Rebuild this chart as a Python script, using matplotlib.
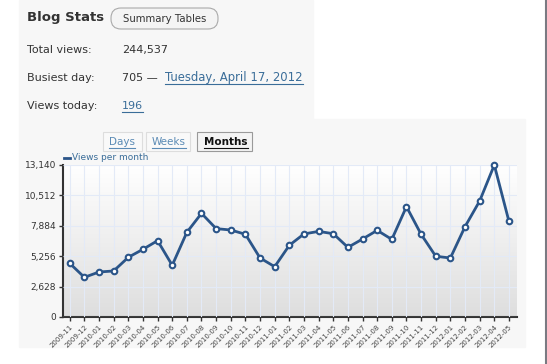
import matplotlib.pyplot as plt
from matplotlib.patches import Rectangle, FancyBboxPatch
from matplotlib.colors import LinearSegmentedColormap
import numpy as np

months = ['2009-11', '2009-12', '2010-01', '2010-02', '2010-03', '2010-04', '2010-05',
          '2010-06', '2010-07', '2010-08', '2010-09', '2010-10', '2010-11', '2010-12',
          '2011-01', '2011-02', '2011-03', '2011-04', '2011-05', '2011-06', '2011-07',
          '2011-08', '2011-09', '2011-10', '2011-11', '2011-12', '2012-01', '2012-02',
          '2012-03', '2012-04', '2012-05']
views = [4640, 3430, 3890, 3980, 5160, 5850, 6600, 4470, 7320, 8960, 7640, 7520,
         7150, 5100, 4350, 6200, 7180, 7400, 7200, 6020, 6740, 7490, 6710, 9540,
         7150, 5250, 5100, 7810, 10030, 13140, 8270]
yticks = [0, 2628, 5256, 7884, 10512, 13140]

W, H = 547, 364
fig = plt.figure(figsize=(W / 100, H / 100), dpi=100)
fig.patch.set_facecolor('white')

# full-figure pixel canvas for the page decorations
bg = fig.add_axes([0, 0, 1, 1])
bg.set_xlim(0, W)
bg.set_ylim(H, 0)
bg.axis('off')

panel = '#f7f7f7'
bg.add_patch(Rectangle((19, 0), 294, 119, color=panel, zorder=0))
bg.add_patch(Rectangle((19, 119), 506, 228, color=panel, zorder=0))
bg.plot([546, 546], [0, H], color='#7a7a82', lw=1.5)

font = 'DejaVu Sans'
link = '#3a6d99'
txt = '#333333'
bg.text(27, 18, 'Blog Stats', fontsize=9.5, fontweight='bold', color='#333333',
        va='center', family=font)
bg.add_patch(FancyBboxPatch((111, 8), 107, 21, boxstyle='round,pad=0,rounding_size=10',
                            fc='#f4f4f4', ec='#aaaaaa', lw=0.8))
bg.text(164.5, 18.5, 'Summary Tables', fontsize=7.3, color='#333333',
        ha='center', va='center', family=font)

rows = [('Total views:', 50), ('Busiest day:', 78), ('Views today:', 106)]
for label, y in rows:
    bg.text(27, y, label, fontsize=8, color=txt, va='center', family=font)
bg.text(122, 50, '244,537', fontsize=8, color=txt, va='center', family=font)
bg.text(122, 78, '705 \u2014', fontsize=8, color=txt, va='center', family=font)

renderer = fig.canvas.get_renderer()


def underlined(x, y, s, **kw):
    t = bg.text(x, y, s, va='center', family=font, **kw)
    bb = t.get_window_extent(renderer)
    inv = bg.transData.inverted()
    x0, _ = inv.transform((bb.x0, bb.y0))
    x1, _ = inv.transform((bb.x1, bb.y0))
    bg.plot([x0, x1], [y + 6, y + 6], color=kw.get('color', link), lw=0.8)
    return t


underlined(165, 78, 'Tuesday, April 17, 2012', fontsize=8.4, color=link)
underlined(122, 106, '196', fontsize=8, color=link)

# tabs
tabs = [('Days', 103, 39), ('Weeks', 146, 44), ('Months', 197, 55)]
for name, x, w in tabs:
    sel = name == 'Months'
    bg.add_patch(Rectangle((x, 132), w, 19, fc='#f4f4f4' if sel else '#f9f9f9',
                           ec='#9a9a9a' if sel else '#dddddd', lw=0.8))
    if sel:
        underlined(x + 7, 142, name, fontsize=7.5, color='#111111',
                   fontweight='bold')
    else:
        underlined(x + 6, 142, name, fontsize=7.5, color='#5b8bb5')

# legend
bg.plot([64, 70], [158, 158], color='#2b5589', lw=2)
bg.text(72, 158, 'Views per month', fontsize=6.5, color='#3a6d99', va='center',
        family=font)

# chart axes
left, right, top, bottom = 63, 517, 165, 317
ax = fig.add_axes([left / W, (H - bottom) / H, (right - left) / W, (bottom - top) / H])
x = np.arange(len(months))
x0, x1 = -0.46, len(months) - 1 + 0.55

grad = np.linspace(0, 1, 256).reshape(-1, 1)
ax.imshow(grad, cmap=LinearSegmentedColormap.from_list('g', ['#ffffff', '#dedede']),
          aspect='auto', extent=[x0, x1, 0, 13140], origin='upper', zorder=0)
ax.set_xlim(x0, x1)
ax.set_ylim(0, 13140)

ax.plot(x, views, color='#2b5589', lw=2, marker='o', ms=4, mfc='white',
        mec='#2b5589', mew=1.5, zorder=3, clip_on=False)

ax.set_xticks(x)
ax.set_xticklabels(months, rotation=45, ha='right', fontsize=5, color='#444444',
                   rotation_mode='anchor')
ax.set_yticks(yticks)
ax.set_yticklabels([f'{v:,}' for v in yticks], fontsize=6.5, color='#333333')
ax.grid(True, color='#e3eaf7', lw=0.8, zorder=1)
ax.set_axisbelow(False)
for s in ['top', 'right']:
    ax.spines[s].set_visible(False)
for s in ['left', 'bottom']:
    ax.spines[s].set_color('#333333')
    ax.spines[s].set_linewidth(1.5)
ax.tick_params(axis='both', length=3, width=1, color='#333333', pad=2)

fig.savefig('out.png', dpi=100, facecolor=fig.get_facecolor())
